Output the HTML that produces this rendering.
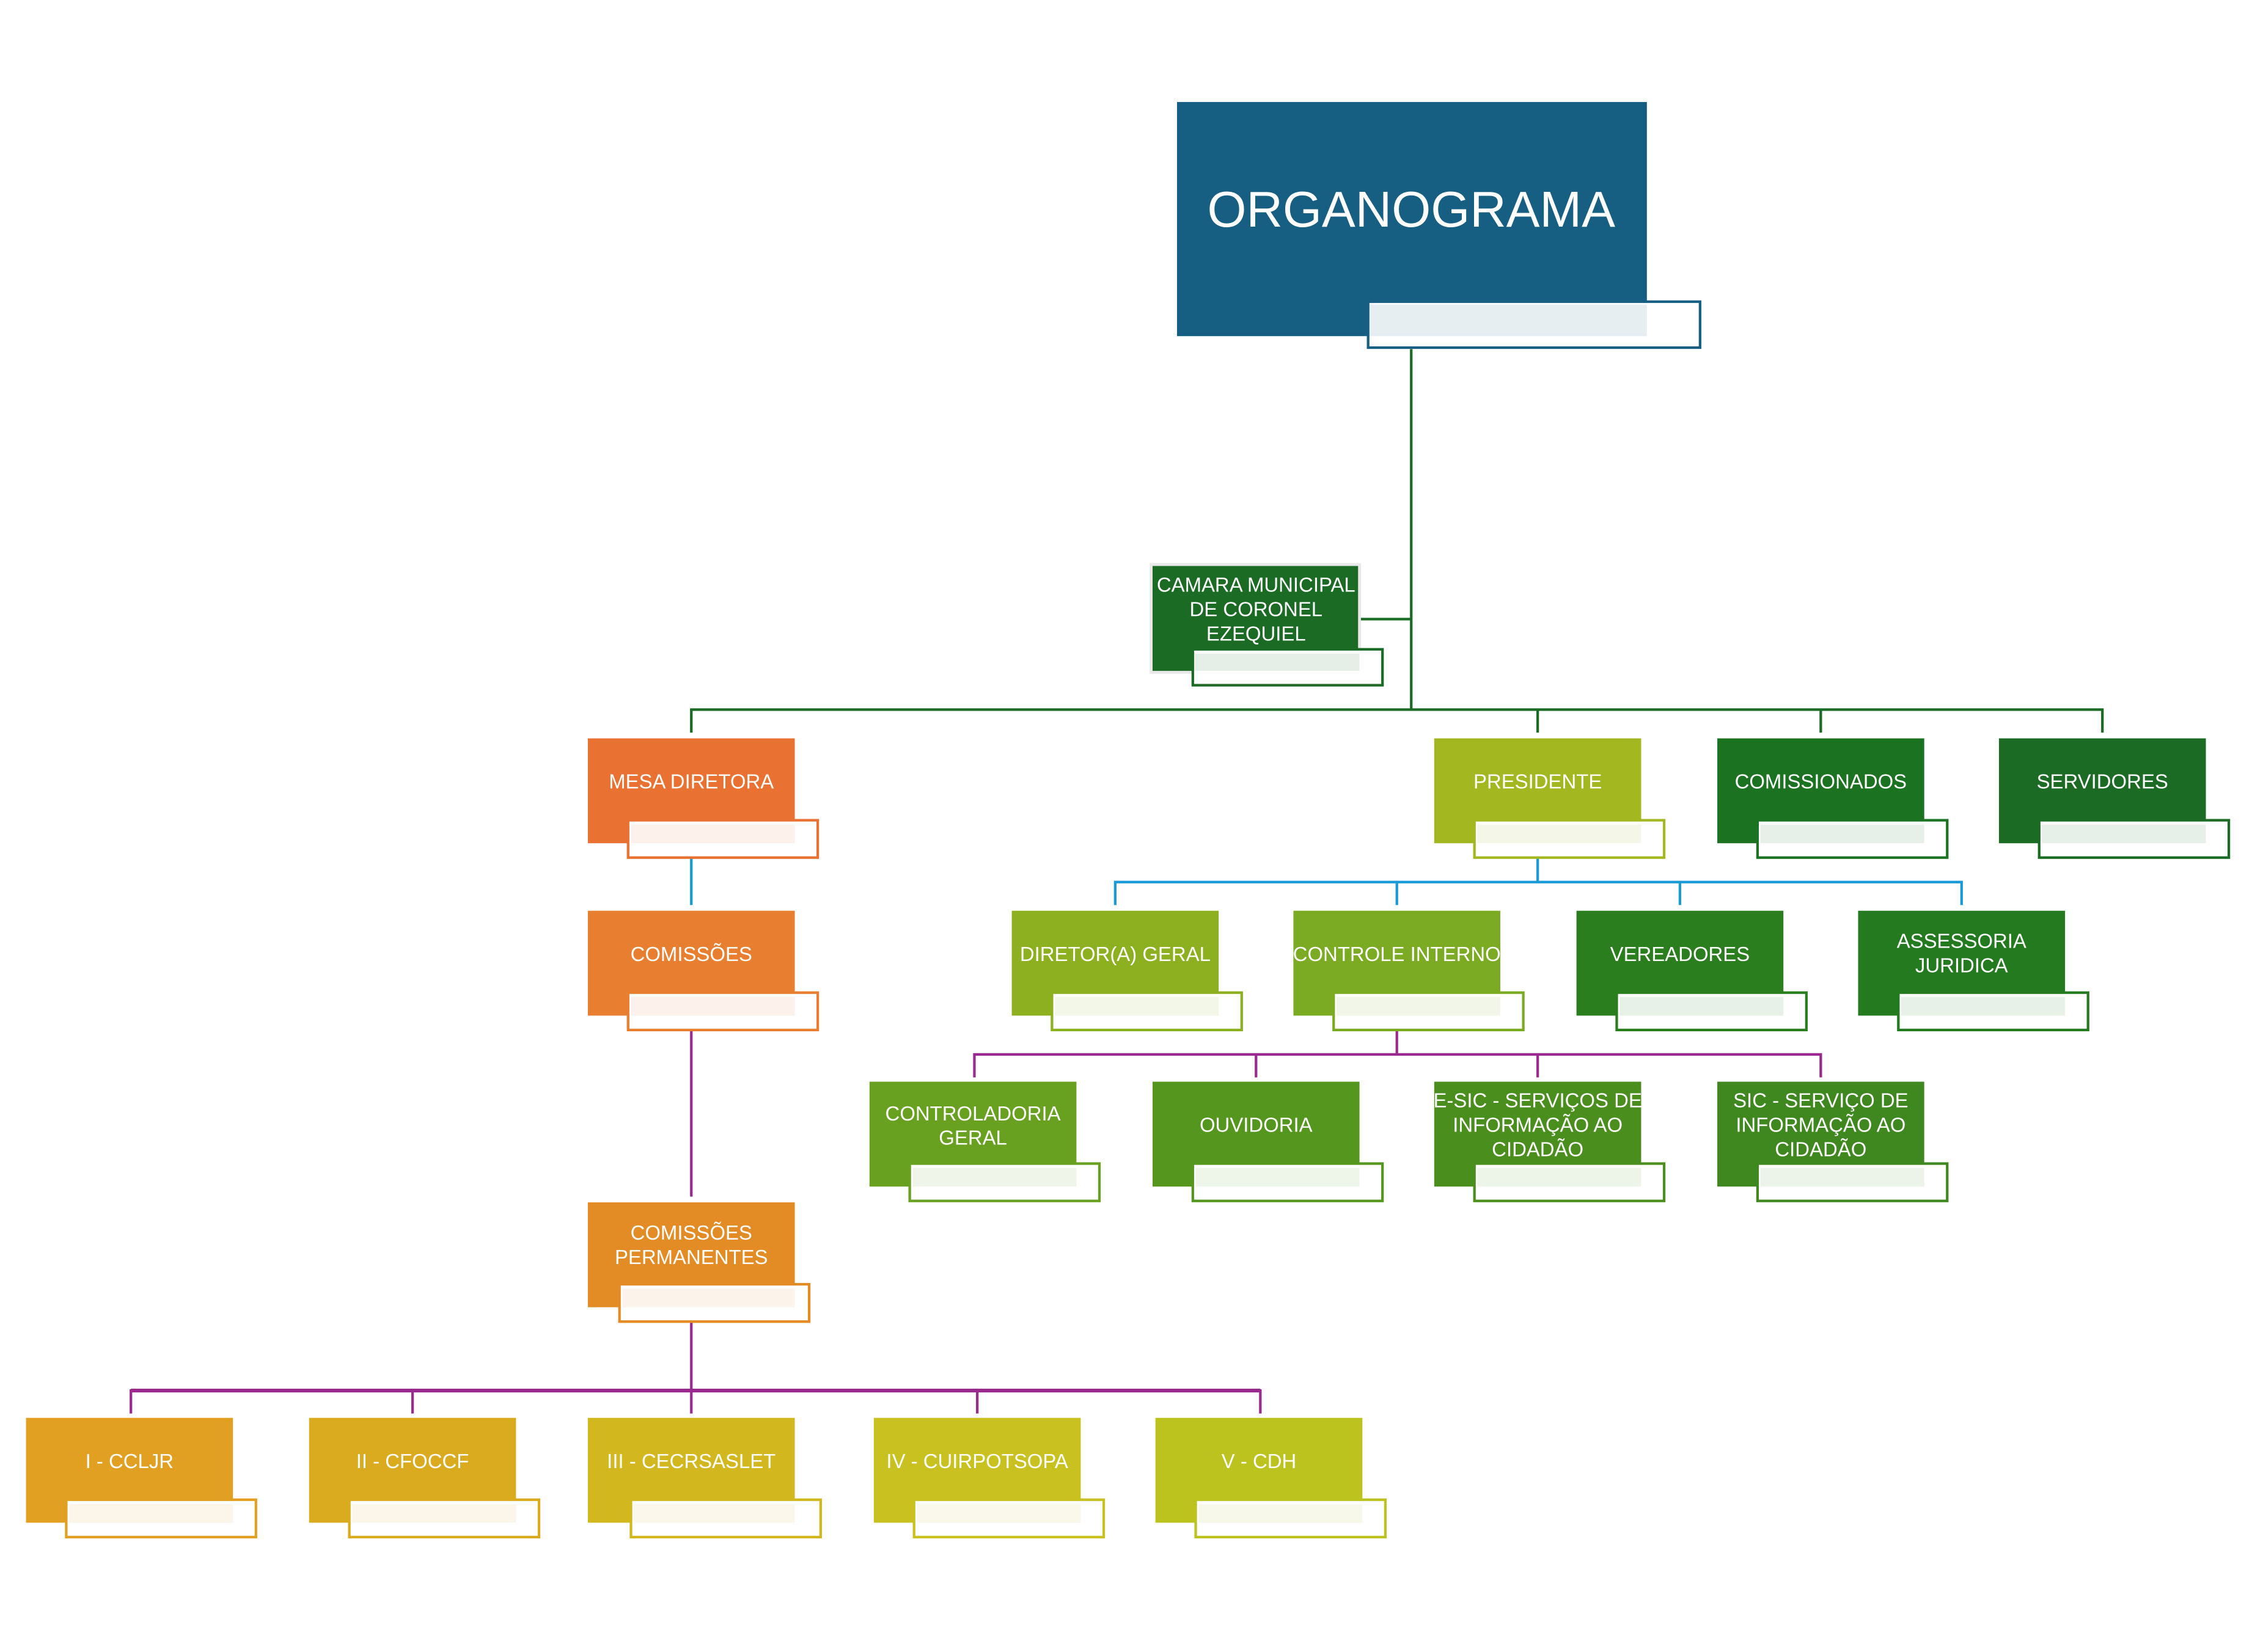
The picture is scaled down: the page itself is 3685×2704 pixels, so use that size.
<!DOCTYPE html>
<html><head><meta charset="utf-8"><style>
html,body{margin:0;padding:0;background:#fff;}
svg{display:block;}
text{font-family:"Liberation Sans",sans-serif;fill:#fff;text-anchor:middle;dominant-baseline:central;}
</style></head><body>
<svg width="3685" height="2704" viewBox="0 0 1567 1150" xmlns="http://www.w3.org/2000/svg">
<rect width="1567" height="1150" fill="#fff"/>
<g stroke="#1b6b25" stroke-width="1.8" fill="none">
<path d="M982 243V494M946 431H982M481 510V494H1463V510M1070 494V510M1267 494V510"/>
</g>
<g stroke="#1a9ad6" stroke-width="1.8" fill="none">
<path d="M481 597V630M1070 597V614M776 630V614H1365V630M972 614V630M1169 614V630"/>
</g>
<g stroke="#9b2a8e" stroke-width="1.8" fill="none">
<path d="M481 717V833M972 717V734M678 750V734H1267V750M874 734V750M1070 734V750"/>
<path d="M481 920V968M91 984V968H877V984M287 968V984M481 968V984M680 968V984"/>
<path d="M91 968H877" stroke-width="2.6"/>
</g>

<rect x="819" y="71" width="327" height="163" fill="#175f82"/>
<rect x="952" y="210" width="231" height="32" fill="#fff" stroke="#175f82" stroke-width="1.8"/>
<rect x="953" y="212" width="193" height="22" fill="#e6eef2"/>
<text x="982" y="146" font-size="35">ORGANOGRAMA</text>

<rect x="800" y="392" width="147" height="77" fill="#e8e8e8"/>
<rect x="802" y="394" width="143" height="73" fill="#1b6b25"/>
<rect x="830" y="452" width="132" height="25" fill="#fff" stroke="#1b6b25" stroke-width="1.8"/>
<rect x="831" y="455" width="115" height="12" fill="#e6efe7"/>
<text x="874" y="407" font-size="14">CAMARA MUNICIPAL</text>
<text x="874" y="424" font-size="14">DE CORONEL</text>
<text x="874" y="441" font-size="14">EZEQUIEL</text>

<g id="nodes">
<rect x="409" y="514" width="144" height="73" fill="#e97132"/><rect x="437" y="571" width="132" height="26" fill="#fff" stroke="#e97132" stroke-width="1.8"/><rect x="439" y="574" width="114" height="13" fill="#fcf1eb"/>
<text x="481" y="544" font-size="14">MESA DIRETORA</text>
<rect x="998" y="514" width="144" height="73" fill="#a3b720"/><rect x="1026" y="571" width="132" height="26" fill="#fff" stroke="#a3b720" stroke-width="1.8"/><rect x="1028" y="574" width="114" height="13" fill="#f4f7e8"/>
<text x="1070" y="544" font-size="14">PRESIDENTE</text>
<rect x="1195" y="514" width="144" height="73" fill="#1b7220"/><rect x="1223" y="571" width="132" height="26" fill="#fff" stroke="#1b7220" stroke-width="1.8"/><rect x="1225" y="574" width="114" height="13" fill="#e7f0e8"/>
<text x="1267" y="544" font-size="14">COMISSIONADOS</text>
<rect x="1391" y="514" width="144" height="73" fill="#1b6b25"/><rect x="1419" y="571" width="132" height="26" fill="#fff" stroke="#1b6b25" stroke-width="1.8"/><rect x="1421" y="574" width="114" height="13" fill="#e7f0e8"/>
<text x="1463" y="544" font-size="14">SERVIDORES</text>

<rect x="409" y="634" width="144" height="73" fill="#e87f30"/><rect x="437" y="691" width="132" height="26" fill="#fff" stroke="#e87f30" stroke-width="1.8"/><rect x="439" y="694" width="114" height="13" fill="#fcf1eb"/>
<text x="481" y="664" font-size="14">COMISSÕES</text>
<rect x="704" y="634" width="144" height="73" fill="#8db020"/><rect x="732" y="691" width="132" height="26" fill="#fff" stroke="#8db020" stroke-width="1.8"/><rect x="734" y="694" width="114" height="13" fill="#f3f7e8"/>
<text x="776" y="664" font-size="14">DIRETOR(A) GERAL</text>
<rect x="900" y="634" width="144" height="73" fill="#7aab22"/><rect x="928" y="691" width="132" height="26" fill="#fff" stroke="#7aab22" stroke-width="1.8"/><rect x="930" y="694" width="114" height="13" fill="#f1f6e8"/>
<text x="972" y="664" font-size="14">CONTROLE INTERNO</text>
<rect x="1097" y="634" width="144" height="73" fill="#2a7e1e"/><rect x="1125" y="691" width="132" height="26" fill="#fff" stroke="#2a7e1e" stroke-width="1.8"/><rect x="1127" y="694" width="114" height="13" fill="#e8f1e7"/>
<text x="1169" y="664" font-size="14">VEREADORES</text>
<rect x="1293" y="634" width="144" height="73" fill="#237a1f"/><rect x="1321" y="691" width="132" height="26" fill="#fff" stroke="#237a1f" stroke-width="1.8"/><rect x="1323" y="694" width="114" height="13" fill="#e8f1e7"/>
<text x="1365" y="655" font-size="14">ASSESSORIA</text><text x="1365" y="672" font-size="14">JURIDICA</text>

<rect x="605" y="753" width="144" height="73" fill="#68a020"/><rect x="633" y="810" width="132" height="26" fill="#fff" stroke="#68a020" stroke-width="1.8"/><rect x="635" y="813" width="114" height="13" fill="#eff5e9"/>
<text x="677" y="775" font-size="14">CONTROLADORIA</text><text x="677" y="792" font-size="14">GERAL</text>
<rect x="802" y="753" width="144" height="73" fill="#55961e"/><rect x="830" y="810" width="132" height="26" fill="#fff" stroke="#55961e" stroke-width="1.8"/><rect x="832" y="813" width="114" height="13" fill="#eef5e9"/>
<text x="874" y="783" font-size="14">OUVIDORIA</text>
<rect x="998" y="753" width="144" height="73" fill="#4a8e1e"/><rect x="1026" y="810" width="132" height="26" fill="#fff" stroke="#4a8e1e" stroke-width="1.8"/><rect x="1028" y="813" width="114" height="13" fill="#edf4e8"/>
<text x="1070" y="766" font-size="14">E-SIC - SERVIÇOS DE</text><text x="1070" y="783" font-size="14">INFORMAÇÃO AO</text><text x="1070" y="800" font-size="14">CIDADÃO</text>
<rect x="1195" y="753" width="144" height="73" fill="#3e881f"/><rect x="1223" y="810" width="132" height="26" fill="#fff" stroke="#3e881f" stroke-width="1.8"/><rect x="1225" y="813" width="114" height="13" fill="#ecf3e8"/>
<text x="1267" y="766" font-size="14">SIC - SERVIÇO DE</text><text x="1267" y="783" font-size="14">INFORMAÇÃO AO</text><text x="1267" y="800" font-size="14">CIDADÃO</text>

<rect x="409" y="837" width="144" height="73" fill="#e38b25"/><rect x="431" y="894" width="132" height="26" fill="#fff" stroke="#e38b25" stroke-width="1.8"/><rect x="433" y="897" width="120" height="13" fill="#fcf3eb"/>
<text x="481" y="858" font-size="14">COMISSÕES</text><text x="481" y="875" font-size="14">PERMANENTES</text>

<rect x="18" y="987" width="144" height="73" fill="#e2a022"/><rect x="46" y="1044" width="132" height="26" fill="#fff" stroke="#e2a022" stroke-width="1.8"/><rect x="48" y="1047" width="114" height="13" fill="#fcf5ea"/>
<text x="90" y="1017" font-size="14">I - CCLJR</text>
<rect x="215" y="987" width="144" height="73" fill="#daaa1f"/><rect x="243" y="1044" width="132" height="26" fill="#fff" stroke="#daaa1f" stroke-width="1.8"/><rect x="245" y="1047" width="114" height="13" fill="#fcf6ea"/>
<text x="287" y="1017" font-size="14">II - CFOCCF</text>
<rect x="409" y="987" width="144" height="73" fill="#d3b71f"/><rect x="439" y="1044" width="132" height="26" fill="#fff" stroke="#d3b71f" stroke-width="1.8"/><rect x="441" y="1047" width="112" height="13" fill="#fbf7ea"/>
<text x="481" y="1017" font-size="14">III - CECRSASLET</text>
<rect x="608" y="987" width="144" height="73" fill="#c8c120"/><rect x="636" y="1044" width="132" height="26" fill="#fff" stroke="#c8c120" stroke-width="1.8"/><rect x="638" y="1047" width="114" height="13" fill="#f9f8ea"/>
<text x="680" y="1017" font-size="14">IV - CUIRPOTSOPA</text>
<rect x="804" y="987" width="144" height="73" fill="#bcc31f"/><rect x="832" y="1044" width="132" height="26" fill="#fff" stroke="#bcc31f" stroke-width="1.8"/><rect x="834" y="1047" width="114" height="13" fill="#f7f8ea"/>
<text x="876" y="1017" font-size="14">V - CDH</text>
</g>
</svg>
</body></html>
